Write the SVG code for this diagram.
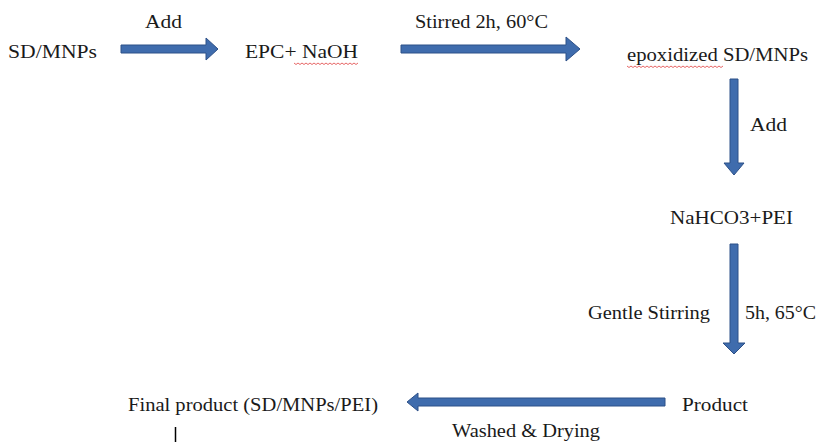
<svg xmlns="http://www.w3.org/2000/svg" width="817" height="442" viewBox="0 0 817 442">
<style>
  text { font-family: "Liberation Serif", "Times New Roman", serif; font-size: 19px; fill: #1a1a1a; }
  .arrow { fill: #3f6cad; stroke: #2d5088; stroke-width: 1; stroke-linejoin: miter; }
  .squig { fill: none; stroke: #e04040; stroke-width: 0.8; }
</style>
<rect width="817" height="442" fill="#ffffff"/>

<g id="connectors">
  <path class="arrow" d="M121,45 H206 V38 L218,49 L206,60 V53 H121 Z"/>
  <path class="arrow" d="M401,45 H566 V37 L580,49 L566,61 V53 H401 Z"/>
  <path class="arrow" d="M730,79 H738 V163 H744 L734,175 L724,163 H730 Z"/>
  <path class="arrow" d="M730,244 H738 V343 H745 L734,354 L723,343 H730 Z"/>
  <path class="arrow" d="M665,398 V406 H418 V411 L407,402 L418,393 V398 Z"/>
</g>

<g id="n-sdmnps"><text x="8" y="58" textLength="89" lengthAdjust="spacingAndGlyphs">SD/MNPs</text></g>
<g id="l-add1"><text x="145" y="28" textLength="37" lengthAdjust="spacingAndGlyphs">Add</text></g>
<g id="n-epc">
  <text x="245" y="58" textLength="113" lengthAdjust="spacingAndGlyphs">EPC+ NaOH</text>
  <path class="squig" d="M294,63 l2,1.5 l2,-1.5 l2,1.5 l2,-1.5 l2,1.5 l2,-1.5 l2,1.5 l2,-1.5 l2,1.5 l2,-1.5 l2,1.5 l2,-1.5 l2,1.5 l2,-1.5 l2,1.5 l2,-1.5 l2,1.5 l2,-1.5 l2,1.5 l2,-1.5 l2,1.5 l2,-1.5 l2,1.5 l2,-1.5 l2,1.5 l2,-1.5 l2,1.5 l2,-1.5 l2,1.5 l2,-1.5 l2,1.5 l2,-1.5"/>
</g>
<g id="l-stirred"><text x="415" y="28" textLength="133" lengthAdjust="spacingAndGlyphs">Stirred 2h, 60°C</text></g>
<g id="n-epox">
  <text x="627" y="61" textLength="181" lengthAdjust="spacingAndGlyphs">epoxidized SD/MNPs</text>
  <path class="squig" d="M627,66 l2,1.5 l2,-1.5 l2,1.5 l2,-1.5 l2,1.5 l2,-1.5 l2,1.5 l2,-1.5 l2,1.5 l2,-1.5 l2,1.5 l2,-1.5 l2,1.5 l2,-1.5 l2,1.5 l2,-1.5 l2,1.5 l2,-1.5 l2,1.5 l2,-1.5 l2,1.5 l2,-1.5 l2,1.5 l2,-1.5 l2,1.5 l2,-1.5 l2,1.5 l2,-1.5 l2,1.5 l2,-1.5 l2,1.5 l2,-1.5 l2,1.5 l2,-1.5 l2,1.5 l2,-1.5 l2,1.5 l2,-1.5 l2,1.5 l2,-1.5 l2,1.5 l2,-1.5 l2,1.5 l2,-1.5 l2,1.5 l2,-1.5 l2,1.5 l2,-1.5"/>
</g>
<g id="l-add2"><text x="750" y="131" textLength="37" lengthAdjust="spacingAndGlyphs">Add</text></g>
<g id="n-nahco3"><text x="670" y="224" textLength="123" lengthAdjust="spacingAndGlyphs">NaHCO3+PEI</text></g>
<g id="l-gentle"><text x="588" y="319" textLength="122" lengthAdjust="spacingAndGlyphs">Gentle Stirring</text></g>
<g id="l-5h"><text x="745" y="319" textLength="71" lengthAdjust="spacingAndGlyphs">5h, 65°C</text></g>
<g id="n-product"><text x="682" y="411" textLength="66" lengthAdjust="spacingAndGlyphs">Product</text></g>
<g id="n-final"><text x="128" y="411" textLength="250" lengthAdjust="spacingAndGlyphs">Final product (SD/MNPs/PEI)</text></g>
<g id="l-washed"><text x="452" y="437" textLength="148" lengthAdjust="spacingAndGlyphs">Washed &amp; Drying</text></g>
<line x1="175.5" y1="427" x2="175.5" y2="442" stroke="#000" stroke-width="1.5"/>
</svg>
